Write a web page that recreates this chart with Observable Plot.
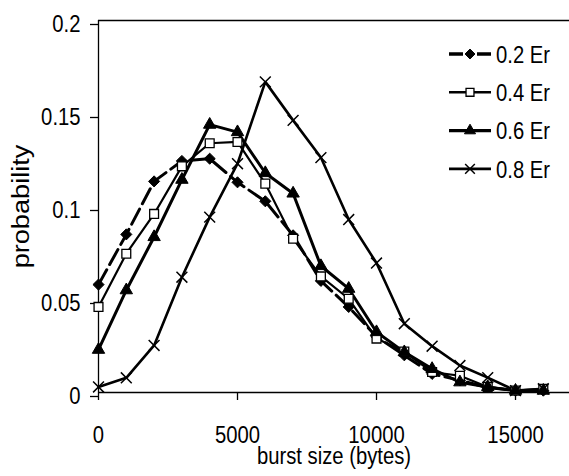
<!DOCTYPE html>
<html><head><meta charset="utf-8">
<script src="https://cdn.jsdelivr.net/npm/d3@7"></script>
<script src="https://cdn.jsdelivr.net/npm/@observablehq/plot@0.6"></script>
<style>body{margin:0;background:#fff}</style>
</head><body><div id="chart"></div>
<script>
// ---- data ----
const burstSizes = [0,1000,2000,3000,4000,5000,6000,7000,8000,9000,10000,11000,12000,13000,14000,15000,16000];
const seriesNames = ["0.2 Er","0.4 Er","0.6 Er","0.8 Er"];
const er02 = [0.058,0.085,0.1135,0.1245,0.1257,0.113,0.1028,0.0845,0.060,0.046,0.030,0.020,0.010,0.0065,0.0027,0.001,0.001];
const er04 = [0.046,0.0746,0.096,0.1216,0.134,0.1347,0.1123,0.0827,0.0624,0.0504,0.029,0.022,0.011,0.009,0.003,0.001,0.002];
const er06 = [0.023,0.055,0.0836,0.1144,0.144,0.140,0.118,0.107,0.068,0.0558,0.0325,0.0217,0.0127,0.0055,0.003,0.001,0.001];
const er08 = [0.003,0.0079,0.0253,0.062,0.0943,0.123,0.167,0.1463,0.1263,0.093,0.0696,0.037,0.0249,0.0145,0.008,0.001,0.002];
const yTicks = [0,0.05,0.1,0.15,0.2];
const yTickLabels = ["0","0.05","0.1","0.15","0.2"];
const xTicks = [0,5000,10000,15000];
const xTickLabels = ["0","5000","10000","15000"];
const xTitle = "burst size (bytes)";
const yTitle = "probability";

// ---- styles ----
const FONT = "'Liberation Sans', Arial, sans-serif";
const seriesValues = [er02, er04, er06, er08];
const styles = {
  "0.2 Er": {symbol: d3.symbolDiamond2, sym: "diamond2", fill: "black", stroke: "black", r: 5, sw: 3, dash: "17,6", legendDash: "14,14", symW: 1},
  "0.4 Er": {symbol: d3.symbolSquare, sym: "square", fill: "white", stroke: "black", r: 5, sw: 2.2, dash: null, legendDash: null, symW: 1.3},
  "0.6 Er": {symbol: d3.symbolTriangle, sym: "triangle", fill: "black", stroke: "black", r: 4.6, sw: 3, dash: null, legendDash: null, symW: 1},
  "0.8 Er": {symbol: d3.symbolTimes, sym: "times", fill: "none", stroke: "black", r: 5, sw: 2.6, dash: null, legendDash: null, symW: 1.5}
};
const rows = seriesNames.flatMap((s, k) => burstSizes.map((b, i) => ({series: s, burst: b, p: seriesValues[k][i]})));

const yLabelMap = new Map(yTicks.map((t, i) => [t, yTickLabels[i]]));
const xLabelMap = new Map(xTicks.map((t, i) => [t, xTickLabels[i]]));

const marks = [
  Plot.ruleY([0.2], {stroke: "black", strokeWidth: 1.3}),
  Plot.ruleY([0], {stroke: "black", strokeWidth: 1.3}),
  Plot.ruleX([0], {stroke: "black", strokeWidth: 1.3}),
  Plot.axisY(yTicks, {tickSize: 8, tickPadding: 10, tickFormat: d => yLabelMap.get(d), label: null, dy: 4, strokeWidth: 1.3}),
  Plot.axisX(xTicks, {tickSize: 8, tickPadding: 26.5, tickFormat: d => xLabelMap.get(d), label: null, strokeWidth: 1.3})
];
for (const s of seriesNames) {
  const st = styles[s];
  marks.push(Plot.line(rows, {filter: d => d.series === s, x: "burst", y: "p", stroke: "black", strokeWidth: st.sw, strokeDasharray: st.dash ?? undefined, strokeLinejoin: "miter"}));
}
for (const s of seriesNames) {
  const st = styles[s];
  marks.push(Plot.dot(rows, {filter: d => d.series === s, x: "burst", y: "p", symbol: st.sym, r: st.r, fill: st.fill, stroke: st.stroke, strokeWidth: st.symW}));
}
marks.push(Plot.text([xTitle], {frameAnchor: "bottom", lineAnchor: "middle", textAnchor: "middle", dy: 64, text: d => d, fill: "black"}));
marks.push(Plot.text([yTitle], {frameAnchor: "left", lineAnchor: "middle", textAnchor: "middle", rotate: -90, dx: -77, text: d => d, fill: "black"}));

const chart = Plot.plot({
  width: 569, height: 476,
  marginLeft: 98, marginRight: 0, marginTop: 20, marginBottom: 84,
  style: {fontFamily: FONT, fontSize: "23px", color: "black", background: "white", overflow: "visible"},
  x: {domain: [0, 16942]},
  y: {domain: [0, 0.2]},
  marks
});
document.getElementById("chart").appendChild(chart);
const svg = d3.select(chart);

// legend
const lg = svg.append("g").attr("class", "legend");
seriesNames.forEach((s, i) => {
  const st = styles[s];
  const y = 54 + i * 38.3;
  lg.append("line").attr("x1", 449).attr("x2", 491).attr("y1", y).attr("y2", y)
    .attr("stroke", "black").attr("stroke-width", st.sw + 0.3)
    .attr("stroke-dasharray", st.legendDash);
  const size = Math.PI * st.r * st.r * 0.8;
  lg.append("path").attr("d", d3.symbol(st.symbol, size)())
    .attr("transform", `translate(470,${y})`)
    .attr("fill", st.fill).attr("stroke", st.stroke).attr("stroke-width", st.symW);
  lg.append("text").attr("x", 496).attr("y", y + 8.7)
    .attr("text-anchor", "start")
    .attr("font-family", FONT).attr("font-size", 23)
    .attr("fill", "black").text(s);
});

// reference glyphs are tall and narrow: compress horizontally (y title is elongated instead)
svg.selectAll("text").each(function() {
  const len = this.getComputedTextLength();
  if (!len) return;
  const f = this.textContent === yTitle ? 1.18 : 0.88;
  this.setAttribute("textLength", (len * f).toFixed(2));
  this.setAttribute("lengthAdjust", "spacingAndGlyphs");
});
</script>
</body></html>
